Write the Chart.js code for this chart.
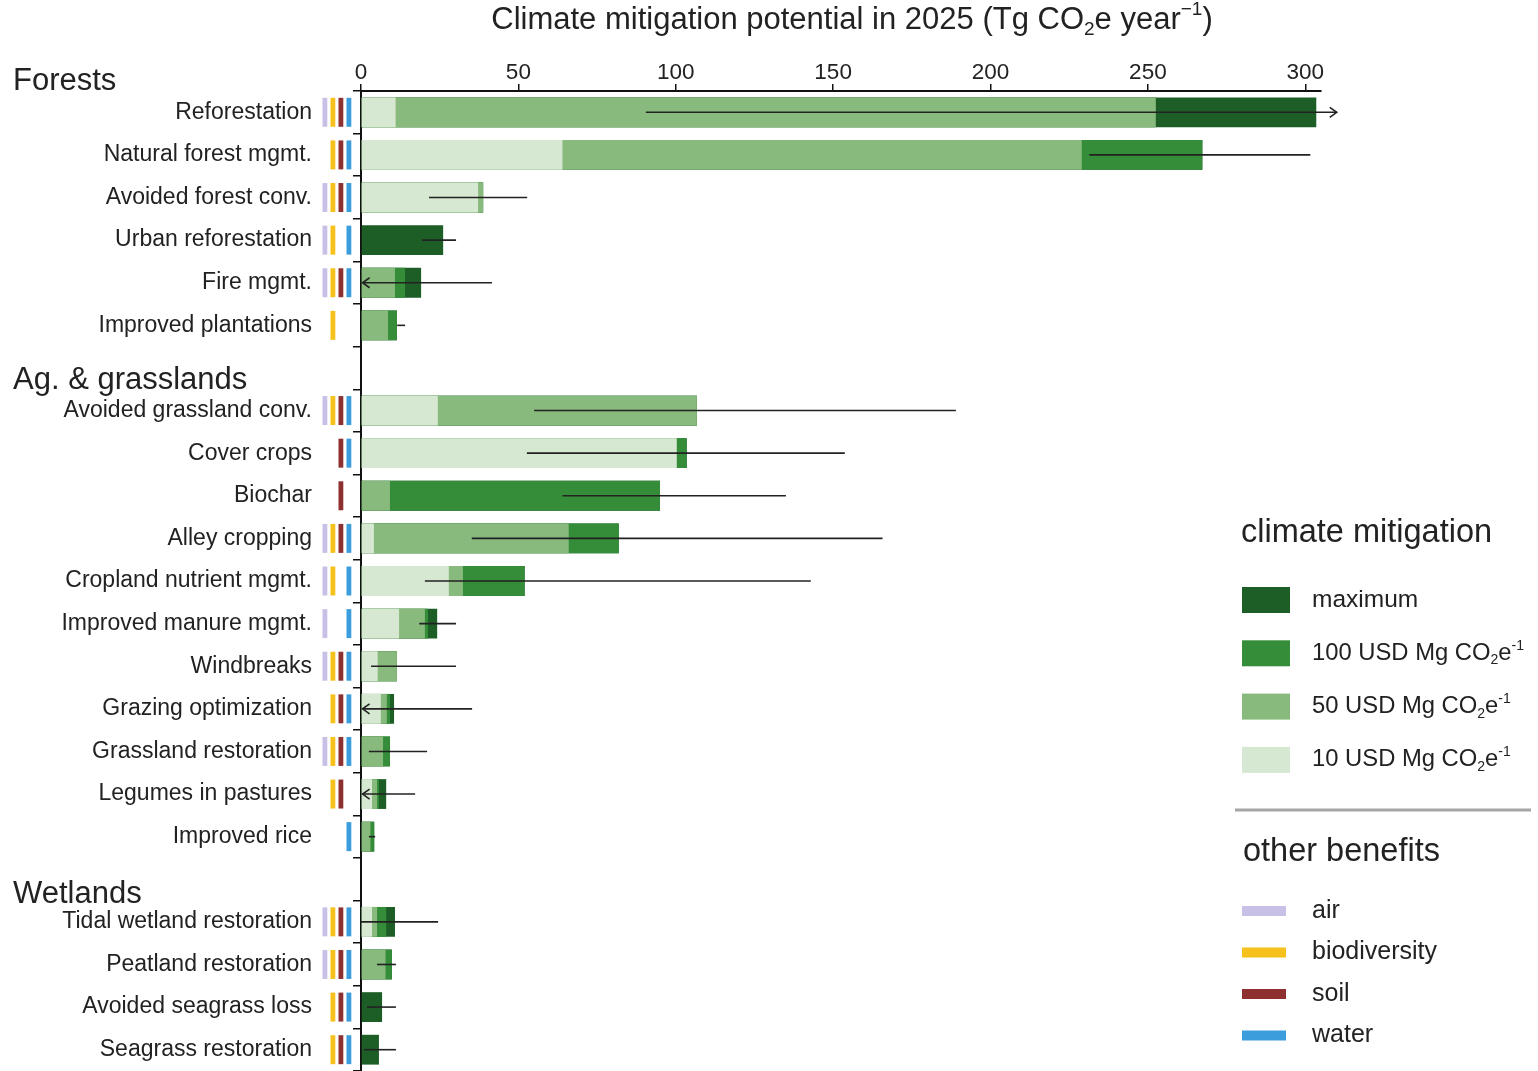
<!DOCTYPE html>
<html><head><meta charset="utf-8">
<script src="https://cdn.jsdelivr.net/npm/chart.js@4.4.1/dist/chart.umd.min.js"></script>
<style>html,body{margin:0;padding:0;background:#fff;overflow:hidden}#wrap{width:1538px;height:1071px;position:relative}canvas{display:block}</style>
</head><body><div id="wrap"><canvas id="c" width="1538" height="1071"></canvas></div>
<script>
// ---- data ----
const categories = ['Reforestation','Natural forest mgmt.','Avoided forest conv.','Urban reforestation','Fire mgmt.','Improved plantations','',
  'Avoided grassland conv.','Cover crops','Biochar','Alley cropping','Cropland nutrient mgmt.','Improved manure mgmt.','Windbreaks','Grazing optimization','Grassland restoration','Legumes in pastures','Improved rice','',
  'Tidal wetland restoration','Peatland restoration','Avoided seagrass loss','Seagrass restoration'];
const groupHeaders = ['Forests','Ag. & grasslands','Wetlands'];
const groupHeaderRows = [-1, 6, 18];
const xTicks = [0, 50, 100, 150, 200, 250, 300];
// cumulative mitigation levels (Tg CO2e / yr)
const usd10   = [11, 64, 37.2, 0, 0, 0, null, 24.4, 100.3, 0, 4.1, 27.9, 12.1, 5.3, 6.3, 0, 3.5, 0, null, 3.5, 0, 0, 0];
const usd50   = [252.5, 229, 38.8, 0, 10.8, 8.6, null, 106.7, 100.3, 9.2, 66, 32.4, 20.3, 11.4, 8.2, 7, 5.1, 3, null, 5.1, 7.8, 0, 0];
const usd100  = [252.5, 267.3, 38.8, 0, 14, 11.4, null, 106.7, 103.5, 95, 81.9, 52, 21.3, 11.4, 9.2, 9.2, 5.7, 4.2, null, 8, 9.8, 0, 0];
const maximum = [303.5, 267.3, 38.8, 26.1, 19.1, 11.4, null, 106.7, 103.5, 95, 81.9, 52, 24.2, 11.4, 10.5, 9.2, 8, 4.2, null, 10.8, 9.8, 6.7, 5.7];
const errLow  = [90.5, 231.4, 21.6, 19.4, 0.5, 11.5, null, 55, 52.7, 64, 35.2, 20.3, 18.5, 3.2, 0.5, 2.5, 0.5, 2.5, null, 0, 5.1, 1.9, 1];
const errHigh = [310, 301.6, 52.8, 30.2, 41.6, 14, null, 189, 153.7, 135, 165.7, 142.9, 30.2, 30.2, 35.3, 21, 17.2, 4.5, null, 24.5, 11.1, 11.1, 11.1];
const arrowLow  = [0,0,0,0,1,0,0, 0,0,0,0,0,0,0,1,0,1,0,0, 0,0,0,0];
const arrowHigh = [1,0,0,0,0,0,0, 0,0,0,0,0,0,0,0,0,0,0,0, 0,0,0,0];
// other benefits flags
const air          = [1,0,1,1,1,0,0, 1,0,0,1,1,1,1,0,1,0,0,0, 1,1,0,0];
const biodiversity = [1,1,1,1,1,1,0, 1,0,0,1,1,0,1,1,1,1,0,0, 1,1,1,1];
const soil         = [1,1,1,0,1,0,0, 1,1,1,1,0,0,1,1,1,1,0,0, 1,1,1,1];
const water        = [1,1,1,1,1,0,0, 1,1,0,1,1,1,1,1,1,0,1,0, 1,1,1,1];
const mitigationLabels = ['maximum','100 USD Mg CO','50 USD Mg CO','10 USD Mg CO'];
const benefitLabels = ['air','biodiversity','soil','water'];

// ---- styles ----
const FONT = '"Liberation Sans", Arial, Helvetica, sans-serif';
const TEXT = '#222';
const COL = {max:'#1d5e27', u100:'#358d39', u50:'#88b97d', u10:'#d7e8d2'};
const BEN = ['#c9c0e8', '#f6c11d', '#8e2f30', '#3b9ddb'];
const benefitFlags = [air, biodiversity, soil, water];
const headerOffsets = [12, 12, 15];

function richWidth(ctx, parts, size){
  let w = 0;
  for (const p of parts){ ctx.font = (p.sub||p.sup ? Math.round(size*0.6) : size) + 'px ' + FONT; w += ctx.measureText(p.t).width; }
  return w;
}
function drawRich(ctx, parts, x, y, size, align){
  let w = richWidth(ctx, parts, size);
  let cx = align === 'center' ? x - w/2 : x;
  ctx.textBaseline = 'middle'; ctx.textAlign = 'left'; ctx.fillStyle = TEXT;
  for (const p of parts){
    const s = p.sub||p.sup ? Math.round(size*0.6) : size;
    ctx.font = s + 'px ' + FONT;
    const dy = p.sub ? size*0.3 : (p.sup ? -size*0.32 : 0);
    ctx.fillText(p.t, cx, y + dy);
    cx += ctx.measureText(p.t).width;
  }
}

const decor = {
  id:'decor',
  afterDatasetsDraw(chart){
    const ctx = chart.ctx, xs = chart.scales.x, ys = chart.scales.y;
    ctx.save();
    ctx.strokeStyle = '#222'; ctx.lineWidth = 1.6;
    for (let i = 0; i < categories.length; i++){
      if (errLow[i] == null) continue;
      const y = ys.getPixelForValue(i);
      const x1 = xs.getPixelForValue(errLow[i]), x2 = xs.getPixelForValue(errHigh[i]);
      ctx.beginPath(); ctx.moveTo(x1, y); ctx.lineTo(x2, y); ctx.stroke();
      if (arrowLow[i]){ ctx.beginPath(); ctx.moveTo(x1+7, y-5); ctx.lineTo(x1, y); ctx.lineTo(x1+7, y+5); ctx.stroke(); }
      if (arrowHigh[i]){ ctx.beginPath(); ctx.moveTo(x2-7, y-5); ctx.lineTo(x2, y); ctx.lineTo(x2-7, y+5); ctx.stroke(); }
    }
    ctx.restore();
  },
  afterDraw(chart){
    const ctx = chart.ctx, xs = chart.scales.x, ys = chart.scales.y;
    const left = chart.chartArea.left;
    ctx.save();
    // title
    drawRich(ctx, [{t:'Climate mitigation potential in 2025 (Tg CO'},{t:'2',sub:true},{t:'e year'},{t:'\u22121',sup:true},{t:')'}], 852, 20, 31, 'center');
    // group headers
    ctx.font = '31px ' + FONT; ctx.fillStyle = TEXT; ctx.textAlign = 'left'; ctx.textBaseline = 'middle';
    for (let g = 0; g < groupHeaders.length; g++){
      const y = ys.getPixelForValue(groupHeaderRows[g]) + headerOffsets[g];
      ctx.fillText(groupHeaders[g], 13, y);
    }
    // benefit icons
    const rowH = Math.abs(ys.getPixelForValue(1) - ys.getPixelForValue(0));
    for (let i = 0; i < categories.length; i++){
      const y = ys.getPixelForValue(i);
      for (let b = 0; b < 4; b++){
        if (!benefitFlags[b][i]) continue;
        ctx.fillStyle = BEN[b];
        ctx.fillRect(left - 38.5 + b*8, y - rowH*0.34, 4.8, rowH*0.68);
      }
    }
    // legend: climate mitigation
    ctx.fillStyle = TEXT; ctx.font = '32.5px ' + FONT; ctx.textBaseline = 'middle'; ctx.textAlign = 'left';
    ctx.fillText('climate mitigation', 1241, 533);
    const mcols = [COL.max, COL.u100, COL.u50, COL.u10];
    for (let k = 0; k < 4; k++){
      const yc = 600 + k*53.3;
      ctx.fillStyle = mcols[k]; ctx.fillRect(1242, yc - 13, 48, 26);
      if (k === 0){ ctx.fillStyle = TEXT; ctx.font = '24.5px ' + FONT; ctx.fillText(mitigationLabels[k], 1312, yc); }
      else drawRich(ctx, [{t:mitigationLabels[k]},{t:'2',sub:true},{t:'e'},{t:'-1',sup:true}], 1312, yc, 23.8, 'left');
    }
    // separator
    ctx.strokeStyle = '#a6a6a6'; ctx.lineWidth = 3;
    ctx.beginPath(); ctx.moveTo(1235, 810); ctx.lineTo(1531, 810); ctx.stroke();
    // legend: other benefits
    ctx.fillStyle = TEXT; ctx.font = '32.5px ' + FONT;
    ctx.fillText('other benefits', 1243, 852);
    for (let k = 0; k < 4; k++){
      const yc = 911 + k*41.5;
      ctx.fillStyle = BEN[k]; ctx.fillRect(1242, yc - 5, 44, 10);
      ctx.fillStyle = TEXT; ctx.font = '25px ' + FONT; ctx.fillText(benefitLabels[k], 1312, yc);
    }
    ctx.restore();
  }
};

const common = {grouped:false, barPercentage:0.7, categoryPercentage:1, borderWidth:0};
new Chart(document.getElementById('c'), {
  type:'bar',
  data:{labels:categories, datasets:[
    Object.assign({label:'10 USD Mg CO2e-1', data:usd10, backgroundColor:COL.u10}, common),
    Object.assign({label:'50 USD Mg CO2e-1', data:usd50, backgroundColor:COL.u50}, common),
    Object.assign({label:'100 USD Mg CO2e-1', data:usd100, backgroundColor:COL.u100}, common),
    Object.assign({label:'maximum', data:maximum, backgroundColor:COL.max}, common)
  ]},
  options:{
    indexAxis:'y', responsive:false, animation:false, devicePixelRatio:1,
    layout:{padding:{left:0, right:217, top:0, bottom:0}},
    plugins:{legend:{display:false}, tooltip:{enabled:false}, title:{display:false}},
    scales:{
      x:{type:'linear', position:'top', min:0, max:305,
        afterBuildTicks: a => { a.ticks = xTicks.map(v => ({value:v})); },
        afterFit: s => { s.height = 91; s.paddingLeft = 0; s.paddingRight = 0; },
        grid:{drawOnChartArea:false, drawTicks:true, tickLength:7, color:'#111', lineWidth:1.5},
        border:{display:true, color:'#111', width:2},
        ticks:{font:{family:FONT, size:22.5}, color:TEXT, padding:-2, maxRotation:0}},
      y:{type:'category', position:'left', offset:true,
        afterFit: s => { s.width = 361; s.paddingTop = 0; s.paddingBottom = 0; },
        grid:{offset:true, drawOnChartArea:false, drawTicks:true, tickLength:8, color:'#111', lineWidth:1.5},
        border:{display:true, color:'#111', width:2},
        ticks:{font:{family:FONT, size:23}, color:TEXT, padding:41, autoSkip:false}}
    }
  },
  plugins:[decor]
});
</script></body></html>
